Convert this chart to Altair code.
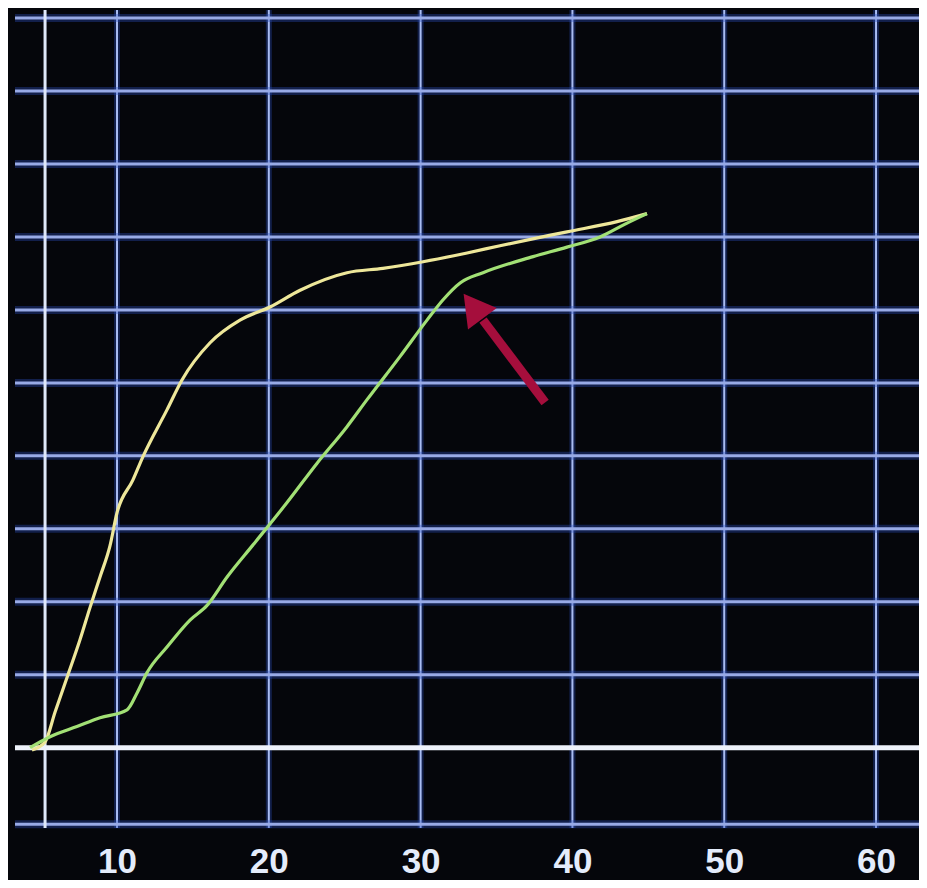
import altair as alt
import pandas as pd

# ---- data ----
x_ticks = [10, 20, 30, 40, 50, 60]
y_grid = [1, 2, 3, 4, 5, 6, 7, 8, 9, 10, -1.05]
x_axis_line = [5.26]
y_axis_line = [0]

# upper (yellow) limb
yel_x = [4.40, 5.26, 5.92, 6.77, 7.56, 8.22, 8.88, 9.54, 10.0, 11.05, 11.71, 13.29,
         14.28, 16.13, 18.10, 20.08, 22.06, 25.15, 27.52, 30.16, 33.06, 35.23,
         39.64, 42.94, 44.91]
yel_y = [-0.03, 0.08, 0.49, 1.00, 1.48, 1.92, 2.34, 2.77, 3.22, 3.67, 3.99, 4.63,
         5.04, 5.55, 5.86, 6.04, 6.27, 6.51, 6.57, 6.66, 6.78, 6.88,
         7.07, 7.21, 7.32]

# lower (green) limb
grn_x = [4.27, 5.59, 7.36, 8.88, 10.66, 11.32, 11.98, 13.29, 14.81, 15.93, 17.25,
         18.96, 21.20, 23.18, 25.15, 26.47, 28.64, 30.42, 31.48, 32.60, 34.11,
         37.41, 39.64, 41.82, 43.60, 44.91]
grn_y = [0.00, 0.15, 0.29, 0.41, 0.52, 0.75, 1.03, 1.38, 1.75, 1.95, 2.34,
         2.78, 3.36, 3.90, 4.40, 4.77, 5.36, 5.86, 6.14, 6.37, 6.51,
         6.73, 6.86, 7.00, 7.19, 7.32]

arrow_shaft_x = [38.20, 34.11]
arrow_shaft_y = [4.73, 5.86]
arrow_head_x = [33.45]
arrow_head_y = [6.05]

# ---- tables ----
curves = pd.concat([
    pd.DataFrame({"x": yel_x, "y": yel_y, "i": range(len(yel_x)), "s": "yellow"}),
    pd.DataFrame({"x": grn_x, "y": grn_y, "i": range(len(grn_x)), "s": "green"}),
])
vg = pd.DataFrame({"x": x_ticks})
hg = pd.DataFrame({"y": y_grid})
xa = pd.DataFrame({"x": x_axis_line})
ya = pd.DataFrame({"y": y_axis_line})
shaft = pd.DataFrame({"x": [arrow_shaft_x[0]], "y": [arrow_shaft_y[0]],
                      "x2": [arrow_shaft_x[1]], "y2": [arrow_shaft_y[1]]})
head = pd.DataFrame({"x": arrow_head_x, "y": arrow_head_y})

xs = alt.Scale(domain=[3.28, 62.83], nice=False, zero=False)
ys = alt.Scale(domain=[-1.10, 10.11], nice=False, zero=False)

xaxis = alt.Axis(values=x_ticks, domain=False, ticks=False, grid=False, title=None,
                 labelColor="#e4ecfb",
                 labelFont="Liberation Sans Narrow, Liberation Sans, Arial",
                 labelFontSize=35, labelFontWeight="bold", labelPadding=16,
                 labelFlush=False)
yaxis = None

X = alt.X("x:Q", scale=xs, axis=xaxis)
Y = alt.Y("y:Q", scale=ys, axis=yaxis)

vglow = alt.Chart(vg).mark_rule(color="#2b4fc4", strokeWidth=6, opacity=0.35).encode(x=X)
vcore = alt.Chart(vg).mark_rule(color="#a9bcf2", strokeWidth=2).encode(x=X)
hglow = alt.Chart(hg).mark_rule(color="#2b4fc4", strokeWidth=8, opacity=0.35).encode(y=Y)
hcore = alt.Chart(hg).mark_rule(color="#98aae6", strokeWidth=3).encode(y=Y)
xaxl = alt.Chart(xa).mark_rule(color="#dfe8fa", strokeWidth=3).encode(x=X)
yaxl = alt.Chart(ya).mark_rule(color="#eef2fb", strokeWidth=5).encode(y=Y)

lines = alt.Chart(curves).mark_line(strokeWidth=3.2, interpolate="monotone").encode(
    x=X, y=Y,
    color=alt.Color("s:N", scale=alt.Scale(domain=["yellow", "green"],
                                           range=["#eee79a", "#a2e075"]), legend=None),
    detail="s:N",
    order=alt.Order("i:Q"),
)

arrow_rule = alt.Chart(shaft).mark_rule(color="#a50e3c", strokeWidth=9).encode(
    x=X, y=Y, x2="x2:Q", y2="y2:Q")
arrow_head = alt.Chart(head).mark_point(shape="triangle-up", filled=True, size=1300,
                                        angle=323, color="#a50e3c", opacity=1).encode(
    x=X, y=Y)

chart = alt.layer(vglow, vcore, hglow, hcore, xaxl, yaxl, lines, arrow_rule, arrow_head).properties(
    width=904, height=818,
    padding={"left": 7, "top": 2, "right": 0, "bottom": 52},
    autosize=alt.AutoSizeParams(type="none"),
    background="#05060b",
).configure_view(stroke=None, fill="#05060b")

chart.save("out.html", embed_options={"renderer": "svg", "actions": False})
